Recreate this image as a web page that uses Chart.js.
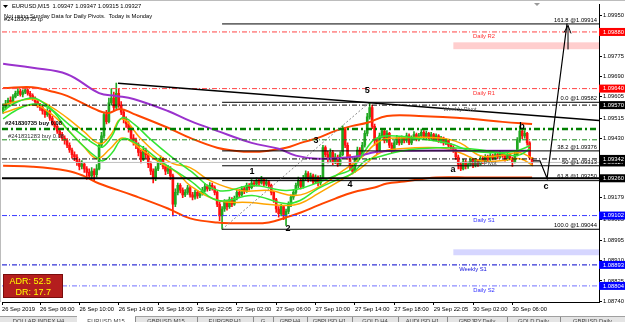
<!DOCTYPE html>
<html><head><meta charset="utf-8">
<script src="https://cdn.jsdelivr.net/npm/chart.js@4/dist/chart.umd.min.js"></script>
<style>
html,body{margin:0;padding:0;background:#fff;}
canvas{display:block;}
</style></head><body>
<canvas id="c" width="625" height="322"></canvas>
<script>
// ---------------- DATA ----------------
const timeLabels = ['26 Sep 2019','26 Sep 06:00','26 Sep 10:00','26 Sep 14:00','26 Sep 18:00','26 Sep 22:05','27 Sep 02:00','27 Sep 06:00','27 Sep 10:00','27 Sep 14:00','27 Sep 18:00','29 Sep 22:05','30 Sep 02:00','30 Sep 06:00'];
const timeTickBars = [-0.45,15,31,47,63,79,95,111,127,143,159,175,191,207];
const priceTicks = [1.09950,1.09775,1.09690,1.09605,1.09515,1.09430,1.09179,1.09085,1.08995,1.08910,1.08825,1.08740];

const open = [1.09545,1.09560,1.09575,1.09590,1.09585,1.09605,1.09620,1.09630,1.09615,1.09625,
1.09635,1.09620,1.09610,1.09600,1.09585,1.09570,1.09560,1.09545,1.09530,1.09545,
1.09515,1.09495,1.09480,1.09460,1.09445,1.09430,1.09420,1.09400,1.09380,1.09360,
1.09350,1.09330,1.09310,1.09320,1.09300,1.09285,1.09270,1.09290,1.09275,1.09300,
1.09400,1.09440,1.09530,1.09500,1.09580,1.09600,1.09560,1.09620,1.09570,1.09540,
1.09510,1.09490,1.09470,1.09430,1.09420,1.09400,1.09370,1.09340,1.09380,1.09360,
1.09320,1.09290,1.09260,1.09300,1.09330,1.09340,1.09310,1.09290,1.09300,1.09270,
1.09150,1.09200,1.09230,1.09210,1.09190,1.09200,1.09220,1.09190,1.09180,1.09200,
1.09185,1.09195,1.09210,1.09225,1.09215,1.09230,1.09220,1.09200,1.09150,1.09100,
1.09130,1.09160,1.09140,1.09170,1.09150,1.09175,1.09200,1.09190,1.09215,1.09205,
1.09230,1.09220,1.09240,1.09235,1.09250,1.09240,1.09255,1.09235,1.09245,1.09230,
1.09200,1.09170,1.09130,1.09110,1.09140,1.09100,1.09120,1.09150,1.09180,1.09200,
1.09230,1.09250,1.09225,1.09260,1.09280,1.09255,1.09270,1.09245,1.09265,1.09240,
1.09260,1.09390,1.09360,1.09340,1.09370,1.09330,1.09350,1.09320,1.09360,1.09470,
1.09400,1.09350,1.09310,1.09290,1.09340,1.09380,1.09360,1.09400,1.09450,1.09520,
1.09560,1.09480,1.09420,1.09380,1.09440,1.09460,1.09420,1.09450,1.09400,1.09380,
1.09410,1.09430,1.09410,1.09430,1.09420,1.09440,1.09410,1.09430,1.09445,1.09425,
1.09440,1.09455,1.09435,1.09450,1.09430,1.09445,1.09425,1.09440,1.09420,1.09430,
1.09410,1.09420,1.09400,1.09390,1.09380,1.09350,1.09320,1.09300,1.09330,1.09310,
1.09320,1.09340,1.09315,1.09335,1.09320,1.09345,1.09330,1.09350,1.09340,1.09355,
1.09345,1.09360,1.09350,1.09365,1.09355,1.09340,1.09360,1.09345,1.09330,1.09360,
1.09420,1.09460,1.09440,1.09450,1.09410,1.09347];
const high = [1.09575,1.09590,1.09600,1.09605,1.09615,1.09630,1.09640,1.09638,1.09635,1.09645,
1.09640,1.09628,1.09618,1.09605,1.09592,1.09578,1.09565,1.09552,1.09555,1.09550,
1.09522,1.09502,1.09488,1.09468,1.09455,1.09440,1.09428,1.09410,1.09388,1.09372,
1.09360,1.09340,1.09335,1.09328,1.09310,1.09300,1.09305,1.09300,1.09318,1.09410,
1.09455,1.09540,1.09548,1.09600,1.09640,1.09625,1.09663,1.09640,1.09585,1.09550,
1.09520,1.09500,1.09480,1.09445,1.09430,1.09410,1.09380,1.09395,1.09388,1.09368,
1.09330,1.09300,1.09310,1.09345,1.09355,1.09348,1.09320,1.09315,1.09310,1.09278,
1.09215,1.09240,1.09238,1.09220,1.09212,1.09230,1.09228,1.09200,1.09210,1.09208,
1.09205,1.09222,1.09238,1.09232,1.09242,1.09240,1.09228,1.09205,1.09160,1.09140,
1.09170,1.09168,1.09180,1.09178,1.09185,1.09210,1.09212,1.09225,1.09222,1.09240,
1.09238,1.09255,1.09250,1.09262,1.09258,1.09268,1.09260,1.09255,1.09250,1.09235,
1.09205,1.09175,1.09140,1.09150,1.09145,1.09130,1.09160,1.09190,1.09212,1.09240,
1.09265,1.09258,1.09272,1.09292,1.09288,1.09282,1.09278,1.09275,1.09270,1.09272,
1.09400,1.09398,1.09375,1.09385,1.09378,1.09365,1.09358,1.09372,1.09482,1.09475,
1.09410,1.09360,1.09320,1.09350,1.09392,1.09390,1.09412,1.09462,1.09535,1.09582,
1.09570,1.09490,1.09430,1.09452,1.09472,1.09468,1.09462,1.09455,1.09410,1.09420,
1.09442,1.09438,1.09440,1.09438,1.09452,1.09448,1.09440,1.09458,1.09452,1.09450,
1.09468,1.09462,1.09460,1.09455,1.09455,1.09450,1.09448,1.09445,1.09438,1.09435,
1.09428,1.09425,1.09408,1.09398,1.09385,1.09358,1.09328,1.09340,1.09338,1.09330,
1.09350,1.09345,1.09345,1.09340,1.09355,1.09352,1.09360,1.09358,1.09365,1.09362,
1.09370,1.09368,1.09378,1.09372,1.09362,1.09370,1.09365,1.09350,1.09372,1.09432,
1.09482,1.09470,1.09462,1.09455,1.09415,1.09347];
const low = [1.09535,1.09550,1.09565,1.09575,1.09580,1.09600,1.09610,1.09608,1.09605,1.09618,
1.09612,1.09600,1.09590,1.09575,1.09560,1.09548,1.09532,1.09518,1.09522,1.09505,
1.09485,1.09468,1.09450,1.09432,1.09420,1.09405,1.09390,1.09370,1.09345,1.09335,
1.09315,1.09295,1.09300,1.09285,1.09255,1.09258,1.09262,1.09250,1.09265,1.09295,
1.09390,1.09430,1.09490,1.09495,1.09570,1.09545,1.09555,1.09560,1.09530,1.09495,
1.09475,1.09455,1.09420,1.09400,1.09385,1.09355,1.09325,1.09335,1.09345,1.09305,
1.09275,1.09240,1.09250,1.09292,1.09318,1.09300,1.09275,1.09280,1.09255,1.09100,
1.09140,1.09190,1.09198,1.09178,1.09182,1.09192,1.09180,1.09168,1.09172,1.09175,
1.09178,1.09188,1.09202,1.09205,1.09208,1.09210,1.09190,1.09140,1.09080,1.09044,
1.09120,1.09125,1.09132,1.09140,1.09145,1.09168,1.09180,1.09185,1.09195,1.09200,
1.09210,1.09215,1.09225,1.09228,1.09230,1.09235,1.09225,1.09228,1.09220,1.09190,
1.09158,1.09115,1.09095,1.09100,1.09085,1.09060,1.09110,1.09140,1.09170,1.09192,
1.09220,1.09215,1.09218,1.09250,1.09245,1.09248,1.09235,1.09238,1.09228,1.09232,
1.09255,1.09350,1.09325,1.09330,1.09318,1.09322,1.09310,1.09315,1.09355,1.09390,
1.09340,1.09295,1.09278,1.09285,1.09330,1.09348,1.09352,1.09392,1.09440,1.09510,
1.09470,1.09400,1.09360,1.09372,1.09430,1.09410,1.09412,1.09390,1.09368,1.09372,
1.09402,1.09400,1.09402,1.09410,1.09412,1.09402,1.09402,1.09422,1.09418,1.09418,
1.09432,1.09428,1.09428,1.09422,1.09422,1.09418,1.09418,1.09412,1.09410,1.09400,
1.09402,1.09390,1.09378,1.09370,1.09340,1.09300,1.09292,1.09295,1.09300,1.09302,
1.09312,1.09305,1.09308,1.09310,1.09315,1.09322,1.09325,1.09332,1.09335,1.09338,
1.09340,1.09342,1.09345,1.09348,1.09332,1.09335,1.09338,1.09310,1.09325,1.09355,
1.09412,1.09428,1.09430,1.09400,1.09340,1.09315];
const close = [1.09560,1.09575,1.09590,1.09585,1.09605,1.09620,1.09630,1.09615,1.09625,1.09635,
1.09620,1.09610,1.09600,1.09585,1.09570,1.09560,1.09545,1.09530,1.09545,1.09515,
1.09495,1.09480,1.09460,1.09445,1.09430,1.09420,1.09400,1.09380,1.09360,1.09350,
1.09330,1.09310,1.09320,1.09300,1.09285,1.09270,1.09290,1.09275,1.09300,1.09400,
1.09440,1.09530,1.09500,1.09580,1.09600,1.09560,1.09620,1.09570,1.09540,1.09510,
1.09490,1.09470,1.09430,1.09420,1.09400,1.09370,1.09340,1.09380,1.09360,1.09320,
1.09290,1.09260,1.09300,1.09330,1.09340,1.09310,1.09290,1.09300,1.09270,1.09150,
1.09200,1.09230,1.09210,1.09190,1.09200,1.09220,1.09190,1.09180,1.09200,1.09185,
1.09195,1.09210,1.09225,1.09215,1.09230,1.09220,1.09200,1.09150,1.09100,1.09130,
1.09160,1.09140,1.09170,1.09150,1.09175,1.09200,1.09190,1.09215,1.09205,1.09230,
1.09220,1.09240,1.09235,1.09250,1.09240,1.09255,1.09235,1.09245,1.09230,1.09200,
1.09170,1.09130,1.09110,1.09140,1.09100,1.09120,1.09150,1.09180,1.09200,1.09230,
1.09250,1.09225,1.09260,1.09280,1.09255,1.09270,1.09245,1.09265,1.09240,1.09260,
1.09390,1.09360,1.09340,1.09370,1.09330,1.09350,1.09320,1.09360,1.09470,1.09400,
1.09350,1.09310,1.09290,1.09340,1.09380,1.09360,1.09400,1.09450,1.09520,1.09560,
1.09480,1.09420,1.09380,1.09440,1.09460,1.09420,1.09450,1.09400,1.09380,1.09410,
1.09430,1.09410,1.09430,1.09420,1.09440,1.09410,1.09430,1.09445,1.09425,1.09440,
1.09455,1.09435,1.09450,1.09430,1.09445,1.09425,1.09440,1.09420,1.09430,1.09410,
1.09420,1.09400,1.09390,1.09380,1.09350,1.09320,1.09300,1.09330,1.09310,1.09320,
1.09340,1.09315,1.09335,1.09320,1.09345,1.09330,1.09350,1.09340,1.09355,1.09345,
1.09360,1.09350,1.09365,1.09355,1.09340,1.09360,1.09345,1.09330,1.09360,1.09420,
1.09460,1.09440,1.09450,1.09410,1.09347,1.09327];

// moving averages / envelopes (bar index, price)
const purpleX = [0,12,26,39,46,53,67,76,87,101,112,119,128,142,152,165,190,214];
const purpleY = [1.09745,1.09728,1.09701,1.09621,1.09609,1.09596,1.09545,1.09503,1.09461,1.09410,1.09385,1.09356,1.09343,1.09350,1.09372,1.09377,1.09377,1.09377];
const redUpX = [0,12,19,26,39,43,47.5,53,67,76,87,94,101,108,115,121,128,135,142,148,156,169,190,203,215];
const redUpY = [1.09642,1.09646,1.09630,1.09609,1.09545,1.09537,1.09554,1.09533,1.09474,1.09431,1.09389,1.09377,1.09372,1.09377,1.09389,1.09410,1.09431,1.09461,1.09482,1.09495,1.09524,1.09524,1.09512,1.09499,1.09490];
const redLoX = [0,12,26,32.5,39,53,67,76,87,101,108,115,121,128,135,142,151,156,163,176,190,215];
const redLoY = [1.09313,1.09309,1.09292,1.09271,1.09238,1.09187,1.09132,1.09090,1.09073,1.09069,1.09073,1.09094,1.09115,1.09145,1.09174,1.09200,1.09221,1.09238,1.09246,1.09263,1.09263,1.09263];
const orangeAX = [0,12,19,26,32.5,39.4,43.5,48.3,55.7,62.6,69.1,76,84.1,96.3,108.5,118.7,128,137,145.1,153.2,161.3,177.6,185.7,193.9,202,210.1,215.4];
const orangeAY = [1.09571,1.09596,1.09566,1.09516,1.09461,1.09406,1.09440,1.09512,1.09431,1.09364,1.09322,1.09305,1.09250,1.09208,1.09208,1.09187,1.09221,1.09284,1.09343,1.09419,1.09431,1.09431,1.09410,1.09356,1.09356,1.09368,1.09343];
const orangeBX = [0,12,19,26,32.5,38.2,43.5,48.7,56.9,63.8,70.7,76,87.4,100.4,114.6,120.7,128,137,145.1,153.2,161.3,177.6,185.7,193.9,202,210.1,215.4];
const orangeBY = [1.09537,1.09571,1.09537,1.09469,1.09398,1.09343,1.09385,1.09431,1.09377,1.09326,1.09284,1.09229,1.09166,1.09157,1.09145,1.09153,1.09195,1.09250,1.09301,1.09368,1.09385,1.09389,1.09368,1.09334,1.09334,1.09343,1.09313];
const greenAX = [0,4.8,12.2,17,26,32.5,38.2,40.6,44.3,48.3,53.6,59.7,67.8,76,87.4,101.2,114.6,120.7,128,135,141.8,147.1,151.2,157.3,169.5,181.7,189.8,202,208.9,214.2];
const greenAY = [1.09545,1.09579,1.09600,1.09575,1.09495,1.09440,1.09398,1.09393,1.09440,1.09516,1.09486,1.09427,1.09356,1.09292,1.09208,1.09229,1.09208,1.09216,1.09242,1.09271,1.09301,1.09377,1.09427,1.09440,1.09427,1.09406,1.09377,1.09368,1.09377,1.09398];
const greenBX = [0,4.8,12.2,19.1,26,32.5,38.2,40.6,44.3,48.7,55.7,63.8,76,87.4,101.2,114.6,120.7,128,135,141.8,147.1,151.2,162.6,176.4,189.8,202,208.9,214.2];
const greenBY = [1.09512,1.09545,1.09575,1.09554,1.09469,1.09398,1.09347,1.09334,1.09368,1.09427,1.09398,1.09334,1.09250,1.09166,1.09187,1.09153,1.09166,1.09216,1.09250,1.09280,1.09334,1.09347,1.09377,1.09389,1.09385,1.09368,1.09356,1.09385];

// horizontal levels
const levelNames = ['Daily R2','Daily R1','Weekly Pivot','Daily Pivot','Daily S1','Weekly S1','Daily S2'];
const levelPrices = [1.09880,1.09640,1.09570,1.09342,1.09102,1.08893,1.08804];
const fibNames = ['161.8','0.0','38.2','50','61.8','100.0'];
const fibPrices = [1.09914,1.09582,1.09376,1.09313,1.09250,1.09044];
const fibStartBar = 89;
const supportLine = 1.09260;
const bidPrice = 1.09327;
const orderNames = ['#241830735 buy 0.08','#241831283 buy 0.08'];
const orderPrices = [1.09469,1.09423];
const zoneTop = [1.09836,1.08959];
const zoneBottom = [1.09807,1.08934];
const zoneStartBar = 183;
const trendX = [46.7,242.2];
const trendY = [1.09663,1.09505];
const diagX = [89,149];
const diagY = [1.09044,1.09582];
const zigX = [215.4,218.2,221.1,229.2];
const zigY = [1.09334,1.09334,1.09259,1.09916];
const waveText = ['1','2','3','4','5','a','b','c'];
const waveBar = [101.2,115.8,127.2,141,148,182.9,210.9,220.7];
const wavePrice = [1.09288,1.09048,1.09419,1.09233,1.09630,1.09297,1.09478,1.09225];
const axisBoxPrices = [1.09880,1.09640,1.09570,1.09327,1.09342,1.09260,1.09102,1.08893,1.08804];
const adrValue = 52.5, drValue = 17.7;

// ---------------- CONFIG ----------------
const X_MIN = -0.45, X_MAX = 242.2, Y_MIN = 1.087358, Y_MAX = 1.099964;
const UP = '#20a820', DOWN = '#ff1010';
const FONT = "'Liberation Sans', Arial, sans-serif";
const DASHDOT = [5,2,1,2];

const candleCol = close.map((c,i)=> c>=open[i] ? UP : DOWN);
const pts = (xs, ys) => xs.map((x,i)=>({x, y: ys[i]}));
const hline = (p, x0) => [{x: x0, y: p}, {x: X_MAX, y: p}];

const levelStyles = [
  {c:'#ff4545', w:1, d:DASHDOT},
  {c:'#ff4545', w:1, d:DASHDOT},
  {c:'#000000', w:1, d:DASHDOT},
  {c:'#000000', w:1, d:DASHDOT},
  {c:'#3838ff', w:1, d:DASHDOT},
  {c:'#0000cc', w:1, d:DASHDOT},
  {c:'#7070ff', w:1, d:DASHDOT}
];
const levelTextColors = ['#ff3030','#ff3030','#505050','#505050','#2f2fff','#1010dd','#2f2fff'];
const levelTextX = [484,484,460,483,484,473,484];

function lineDS(data, color, width, order, extra) {
  return Object.assign({type:'line', data, borderColor: color, borderWidth: width, pointRadius: 0,
    fill: false, tension: 0, order, parsing: true}, extra || {});
}

const datasets = [];
// candles
datasets.push({type:'bar', data: high.map((h,i)=>({x:i, y:[low[i], h]})), backgroundColor: candleCol,
  barThickness: 1, grouped: false, order: 30});
datasets.push({type:'bar', data: close.map((c,i)=>({x:i, y:[open[i], c]})), backgroundColor: candleCol,
  barThickness: 2, grouped: false, minBarLength: 1, order: 29});
// indicators
datasets.push(lineDS(pts(purpleX, purpleY), '#9a32cd', 2, 20, {tension: 0.4}));
datasets.push(lineDS(pts(redUpX, redUpY), '#ff4500', 2, 21, {tension: 0.4}));
datasets.push(lineDS(pts(redLoX, redLoY), '#ff4500', 2, 21, {tension: 0.4}));
datasets.push(lineDS(pts(orangeAX, orangeAY), '#ffa500', 1.5, 22, {tension: 0.4}));
datasets.push(lineDS(pts(orangeBX, orangeBY), '#ffa500', 1.5, 22, {tension: 0.4}));
datasets.push(lineDS(pts(greenAX, greenAY), '#33e633', 1.5, 19, {tension: 0.4}));
datasets.push(lineDS(pts(greenBX, greenBY), '#33e633', 1.5, 19, {tension: 0.4}));
// objects
datasets.push(lineDS(hline(bidPrice, X_MIN), '#c0c0c0', 1, 12));
levelPrices.forEach((p,i)=> datasets.push(lineDS(hline(p, X_MIN), levelStyles[i].c, levelStyles[i].w, 5, {borderDash: levelStyles[i].d})));
datasets.push(lineDS(hline(orderPrices[0], X_MIN), '#008000', 2.5, 6, {borderDash:[6,3,2,3]}));
datasets.push(lineDS(hline(orderPrices[1], X_MIN), '#1a8a1a', 1, 6, {borderDash: DASHDOT}));
datasets.push(lineDS(hline(supportLine, X_MIN), '#000000', 2, 4));
fibPrices.forEach(p => datasets.push(lineDS(hline(p, fibStartBar), '#000000', 1, 3)));
datasets.push(lineDS(pts(trendX, trendY), '#000000', 1.5, 3));
datasets.push(lineDS(pts(diagX, diagY), '#8a8a8a', 1, 3, {borderDash:[2,2]}));
datasets.push(lineDS(pts(zigX, zigY), '#000000', 1.2, 2));

const overlay = {
  id: 'overlay',
  beforeDatasetsDraw(chart) {
    const {ctx, scales:{x, y}, chartArea:a} = chart;
    ctx.save();
    const cols = ['rgba(255,190,190,0.75)','rgba(200,200,255,0.75)'];
    zoneTop.forEach((t,i)=>{
      const x0 = x.getPixelForValue(zoneStartBar);
      const y0 = y.getPixelForValue(t), y1 = y.getPixelForValue(zoneBottom[i]);
      ctx.fillStyle = cols[i];
      ctx.fillRect(x0, y0, a.right - x0, y1 - y0);
    });
    ctx.restore();
  },
  afterDraw(chart) {
    const {ctx, scales:{x, y}, chartArea:a} = chart;
    ctx.save();
    // window borders
    ctx.fillStyle = '#bcbcbc';
    ctx.fillRect(0,0,625,1);
    ctx.fillRect(0,0,1,302);
    // shift marker
    ctx.fillStyle = '#9a9a9a';
    ctx.beginPath(); ctx.moveTo(534,3); ctx.lineTo(540,3); ctx.lineTo(537,6); ctx.closePath(); ctx.fill();
    // header
    ctx.fillStyle = '#000';
    ctx.beginPath(); ctx.moveTo(3,5); ctx.lineTo(8,5); ctx.lineTo(5.5,8); ctx.closePath(); ctx.fill();
    ctx.font = `5.8px ${FONT}`;
    ctx.textBaseline = 'middle'; ctx.textAlign = 'left';
    ctx.fillText('EURUSD,M15  1.09347 1.09347 1.09315 1.09327', 12, 6.5);
    ctx.fillText('Not using Sunday Data for Daily Pivots.  Today is Monday', 4, 16.5);
    ctx.fillText('#241830735 tp', 4, 19);
    // order labels
    ctx.font = `bold 5.8px ${FONT}`;
    ctx.fillText(orderNames[0], 5, y.getPixelForValue(orderPrices[0]) - 5.5);
    ctx.font = `5.8px ${FONT}`;
    ctx.fillStyle = '#333';
    ctx.fillText(orderNames[1], 8, y.getPixelForValue(orderPrices[1]) - 3.5);
    // level labels
    ctx.textAlign = 'center';
    levelNames.forEach((n,i)=>{
      ctx.fillStyle = levelTextColors[i];
      ctx.fillText(n, levelTextX[i], y.getPixelForValue(levelPrices[i]) + 4.6);
    });
    // fib labels
    ctx.fillStyle = '#000'; ctx.textAlign = 'right';
    fibNames.forEach((n,i)=>{
      ctx.fillText(`${n} @${fibPrices[i].toFixed(5)}`, a.right - 2, y.getPixelForValue(fibPrices[i]) - 3.8);
    });
    // wave labels
    ctx.font = `bold 9px ${FONT}`; ctx.textAlign = 'center';
    waveText.forEach((t,i)=> ctx.fillText(t, x.getPixelForValue(waveBar[i]), y.getPixelForValue(wavePrice[i])));
    // arrow head near target
    const tx = x.getPixelForValue(zigX[3]), ty = y.getPixelForValue(zigY[3]);
    ctx.strokeStyle = '#000'; ctx.lineWidth = 1;
    ctx.beginPath(); ctx.moveTo(tx+1, ty+2); ctx.lineTo(tx+1, ty+26);
    ctx.moveTo(tx-3, ty+9); ctx.lineTo(tx+1, ty+2); ctx.lineTo(tx+4, ty+10); ctx.stroke();
    // ADR box
    ctx.fillStyle = '#b41e1e'; ctx.fillRect(3, 274, 60, 24);
    ctx.strokeStyle = '#7a0c0c'; ctx.strokeRect(3.5, 274.5, 59, 23);
    ctx.fillStyle = '#ffff00'; ctx.font = `9px ${FONT}`; ctx.textAlign = 'right';
    ctx.fillText(`ADR: ${adrValue}`, 51, 282);
    ctx.fillText(`DR: ${drValue}`, 51, 293);
    // axis boxes
    const boxCols = ['#ff0000','#ff0000','#000000','#000000','#000000','#000000','#0000ff','#0000ff','#0000ff'];
    ctx.font = `5.8px ${FONT}`; ctx.textAlign = 'left';
    axisBoxPrices.forEach((p,i)=>{
      const py = y.getPixelForValue(p);
      ctx.fillStyle = boxCols[i]; ctx.fillRect(a.right, py - 4, 625 - a.right, 8);
      ctx.fillStyle = '#fff'; ctx.fillText(p.toFixed(5), a.right + 4, py + 0.3);
    });
    // tab bar
    ctx.fillStyle = '#e4e4e4'; ctx.fillRect(0, 316, 625, 6);
    ctx.fillStyle = '#a0a0a0'; ctx.fillRect(0, 316, 625, 1);
    const tabs = [[0,77,'DOLLAR INDEX,H4'],[77,135,'EURUSD,M15'],[135,197,'GBPUSD,M15'],[197,253,'EURGBP,H1'],[253,273,'G'],[273,307,'GBP,H4'],[307,352,'GBPUSD,H1'],[352,398,'GOLD,H4'],[398,447,'AUDUSD,H1'],[447,507,'GBPJPY,Daily'],[507,560,'GOLD,Daily'],[560,625,'GBPUSD,Daily']];
    ctx.font = `5.8px ${FONT}`; ctx.textAlign = 'center';
    tabs.forEach((t,i)=>{
      if (i===1) { ctx.fillStyle = '#ffffff'; ctx.fillRect(t[0], 315, t[1]-t[0], 7); }
      ctx.fillStyle = '#8a8a8a'; ctx.fillRect(t[1], 317, 1, 5);
      ctx.fillStyle = '#444'; ctx.fillText(t[2], (t[0]+t[1])/2, 321.5);
    });
    ctx.restore();
  }
};

new Chart(document.getElementById('c'), {
  type: 'bar',
  data: { datasets },
  options: {
    responsive: false, animation: false, devicePixelRatio: 1, events: [],
    layout: { padding: { left: 2, top: 3, right: 0, bottom: 0 } },
    plugins: { legend: {display:false}, tooltip: {enabled:false} },
    scales: {
      x: {
        type: 'linear', min: X_MIN, max: X_MAX, offset: false,
        grid: { display: true, drawOnChartArea: false, drawTicks: true, tickLength: 3, color: '#000', offset: false },
        border: { display: true, color: '#000', width: 1 },
        afterBuildTicks: s => { s.ticks = timeTickBars.map(v => ({value: v})); },
        afterFit: s => { s.height = 20; },
        ticks: { autoSkip: false, maxRotation: 0, minRotation: 0, align: 'start', padding: 1,
          color: '#000', font: { family: FONT, size: 5.8 },
          callback: (v, i) => timeLabels[i] }
      },
      y: {
        type: 'linear', position: 'right', min: Y_MIN, max: Y_MAX,
        grid: { display: true, drawOnChartArea: false, drawTicks: true, tickLength: 3, color: '#000' },
        border: { display: true, color: '#000', width: 1 },
        afterBuildTicks: s => { s.ticks = priceTicks.map(v => ({value: v})); },
        afterFit: s => { s.width = 26; },
        ticks: { autoSkip: false, padding: 1, color: '#000', font: { family: FONT, size: 5.8 },
          callback: v => Number(v).toFixed(5) }
      }
    }
  },
  plugins: [overlay]
});
</script>
</body></html>
